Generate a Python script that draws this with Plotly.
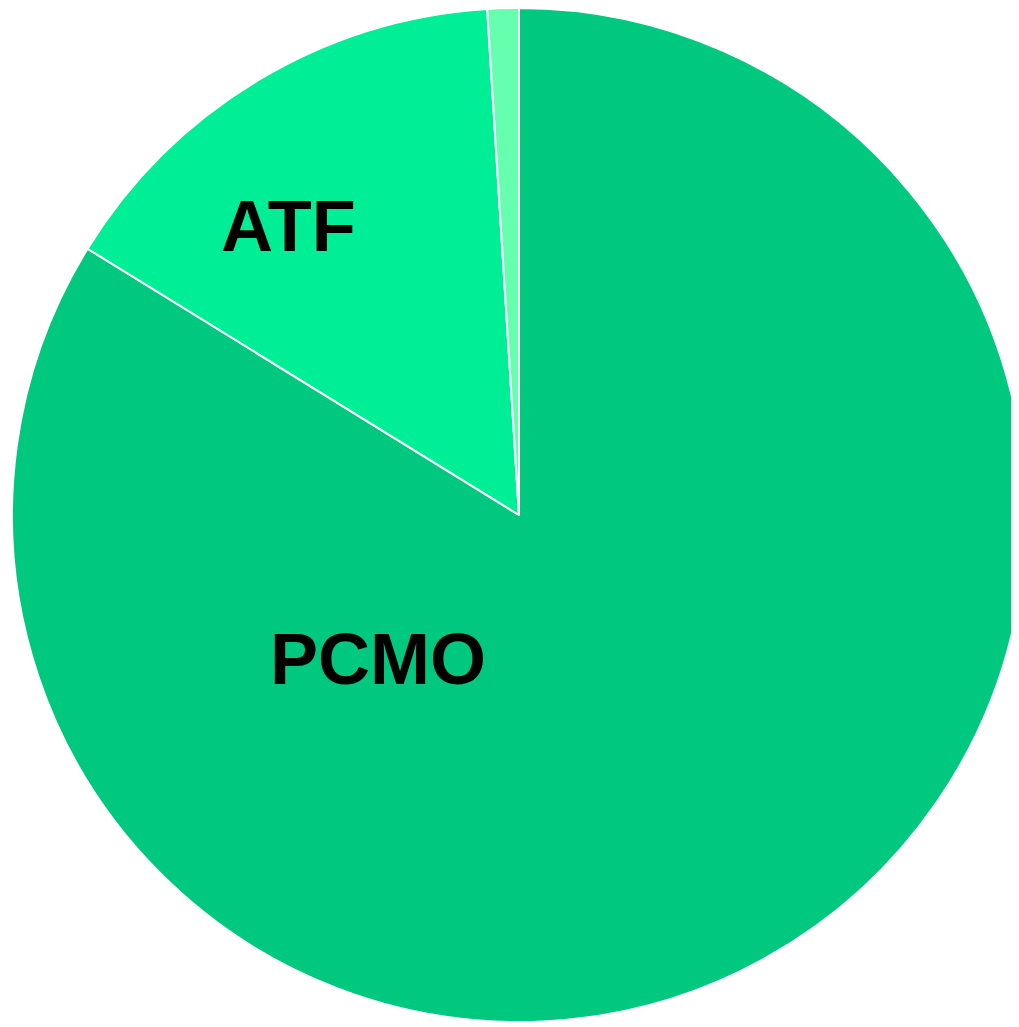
import plotly.graph_objects as go

categories = ["PCMO", "ATF", "Other"]
shares = [83.8, 15.2, 1.0]
colors = ["#00C97F", "#00EE96", "#66FFB0"]

W, H = 1030, 1027

fig = go.Figure(go.Pie(
    labels=categories,
    values=shares,
    sort=False,
    direction="clockwise",
    rotation=0,
    marker=dict(colors=colors, line=dict(color="white", width=2)),
    textinfo="none",
    hoverinfo="label+percent",
    domain=dict(x=[4 / W, 1018 / W], y=[1 - 1014 / H, 1]),
    showlegend=False,
))

label_pos = {"ATF": (280.5, 218), "PCMO": (370, 651)}
for name, (px, py) in label_pos.items():
    fig.add_annotation(
        x=px / W, y=1 - py / H, xref="paper", yref="paper",
        text=f"<b>{name}</b>", showarrow=False,
        xanchor="center", yanchor="middle",
        font=dict(family="Liberation Sans, Arial, sans-serif", size=72, color="black"),
    )

fig.update_layout(
    width=W, height=H,
    margin=dict(l=0, r=0, t=0, b=0),
    paper_bgcolor="white",
    plot_bgcolor="white",
)

fig.write_html("out.html")
